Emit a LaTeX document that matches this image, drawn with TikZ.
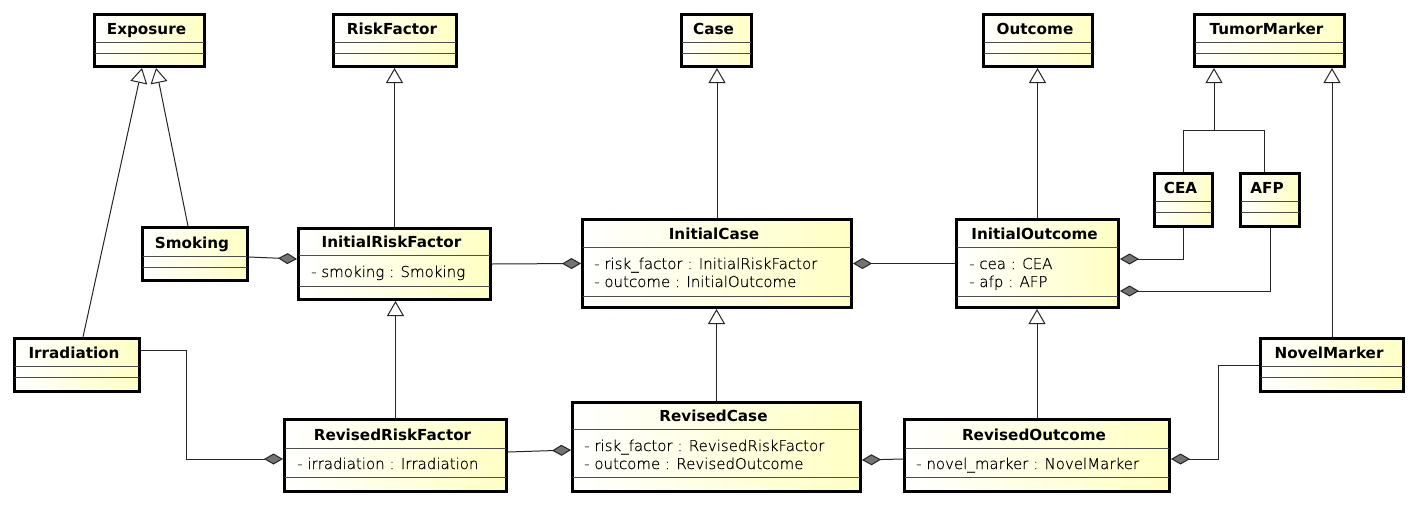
\documentclass[tikz,border=0pt]{standalone}
\usepackage{fontspec}
\setmainfont{DejaVu Sans}
\newfontfamily\attfont[FakeBold=0.5]{DejaVu Sans ExtraLight}
\usetikzlibrary{arrows.meta,calc}
\definecolor{ylw}{RGB}{255,255,196}
\tikzset{
 cls/.style={draw=black, line width=3.2pt, left color=white, right color=ylw, inner sep=0pt},
 sepl/.style={draw=black!70, line width=1pt},
 ttl/.style={font=\fontsize{15.2}{18}\bfseries\selectfont, inner sep=0pt, anchor=base},
 att/.style={font=\attfont\fontsize{15}{18}\selectfont, text=black, inner sep=0pt, anchor=base west},
 conn/.style={draw=black!85, line width=1pt},
 gen/.style={conn, -{Triangle[length=15pt,width=17pt,fill=white]}},
 comp/.style={conn, -{Diamond[length=19pt,width=11pt,fill=black!55]}},
}
\newcommand\umlcls[8]{%
 \node[cls, minimum width={(#4-#2-3.2)*1pt}, minimum height={(#5-#3-3.2)*1pt}] (#1) at ({(#2+#4)/2},{(#3+#5)/2}) {};
 \draw[sepl] ({#2+1.6},#6) -- ({#4-1.6},#6);
 \draw[sepl] ({#2+1.6},#7) -- ({#4-1.6},#7);
 \node[ttl] (#1-t) at ({(#2+#4)/2-3},{#6-7.5}) {#8};
}
\begin{document}
\begin{tikzpicture}[x=1pt,y=-1pt]
\fill[white] (0,0) rectangle (1418,506);
\useasboundingbox (0,0) rectangle (1418,506);

\umlcls{exp}{93}{13}{206}{68}{42}{53}{Exposure}
\umlcls{rf}{332}{13}{458}{68}{42}{53}{RiskFactor}
\umlcls{case}{680}{13}{753}{68}{42}{53}{Case}
\umlcls{out}{982}{13}{1094}{68}{42}{53}{Outcome}
\umlcls{tm}{1193}{13}{1346}{68}{42}{53}{TumorMarker}
\umlcls{cea}{1153}{172}{1214}{228}{201}{212}{CEA}
\umlcls{afp}{1239}{172}{1301}{228}{201}{212}{AFP}
\umlcls{smk}{141}{226}{249}{282}{256}{267}{Smoking}
\umlcls{irf}{297}{227}{492}{301}{255}{286}{InitialRiskFactor}
\umlcls{irr}{13}{337}{141}{393}{366}{377}{Irradiation}
\umlcls{rrf}{283}{418}{508}{493}{448}{477}{RevisedRiskFactor}
\umlcls{ic}{581}{218}{853}{309}{247}{296}{InitialCase}
\umlcls{rc}{571}{401}{862}{493}{429}{477}{RevisedCase}
\umlcls{io}{955}{218}{1120}{309}{247}{296}{InitialOutcome}
\umlcls{ro}{903}{418}{1171}{493}{448}{477}{RevisedOutcome}
\umlcls{nm}{1259}{337}{1405}{393}{366}{377}{NovelMarker}

\node[att] (irf-a1) at (311,277) {- smoking : Smoking};
\node[att] (rrf-a1) at (297,469) {- irradiation : Irradiation};
\node[att] (ic-a1) at (594,269) {- risk\_factor : InitialRiskFactor};
\node[att] (ic-a2) at (594,287) {- outcome : InitialOutcome};
\node[att] (rc-a1) at (584,451) {- risk\_factor : RevisedRiskFactor};
\node[att] (rc-a2) at (584,469) {- outcome : RevisedOutcome};
\node[att] (io-a1) at (969,269) {- cea : CEA};
\node[att] (io-a2) at (969,287) {- afp : AFP};
\node[att] (ro-a1) at (916,469) {- novel\_marker : NovelMarker};

% generalizations
\draw[gen] ($(irr.north)+(6,0)$) -- ($(exp.south)+(-7.5,0)$);
\draw[gen] ($(smk.north)+(-7,0)$) -- ($(exp.south)+(6.5,0)$);
\draw[gen] (irf.north) -- (irf.north |- rf.south);
\draw[gen] (rrf.north) -- (rrf.north |- irf.south);
\draw[gen] (ic.north) -- (ic.north |- case.south);
\draw[gen] (rc.north) -- (rc.north |- ic.south);
\draw[gen] (io.north) -- (io.north |- out.south);
\draw[gen] (ro.north) -- (ro.north |- io.south);
\coordinate (tmj) at (1214,130);
\draw[gen] (cea.north) |- (tmj) -- (tmj |- tm.south);
\draw[conn] ($(afp.north)+(-6,0)$) |- (tmj);
\draw[gen] (nm.north) -- (nm.north |- tm.south);

% compositions
\draw[comp] ($(smk.east)+(0,3)$) -- ($(irf.west)+(0,-5)$);
\draw[comp] (irf.east) -- (ic.west);
\draw[comp] (io.west) -- (ic.east);
\draw[comp] (cea.south) |- ($(io.east)+(0,-4.5)$);
\draw[comp] (afp.south) |- ($(io.east)+(0,27.5)$);
\coordinate (irrb) at (186,350);
\draw[comp] ($(irr.east)+(0,-15)$) -- (irrb) |- ($(rrf.west)+(0,3.5)$);
\draw[comp] ($(rrf.east)+(0,-3.5)$) -- ($(rc.west)+(0,3)$);
\draw[comp] ($(ro.west)+(0,3.5)$) -- ($(rc.east)+(0,13)$);
\coordinate (nmb) at (1218,365);
\draw[comp] (nm.west) -- (nmb) |- ($(ro.east)+(0,3.5)$);
\end{tikzpicture}
\end{document}
